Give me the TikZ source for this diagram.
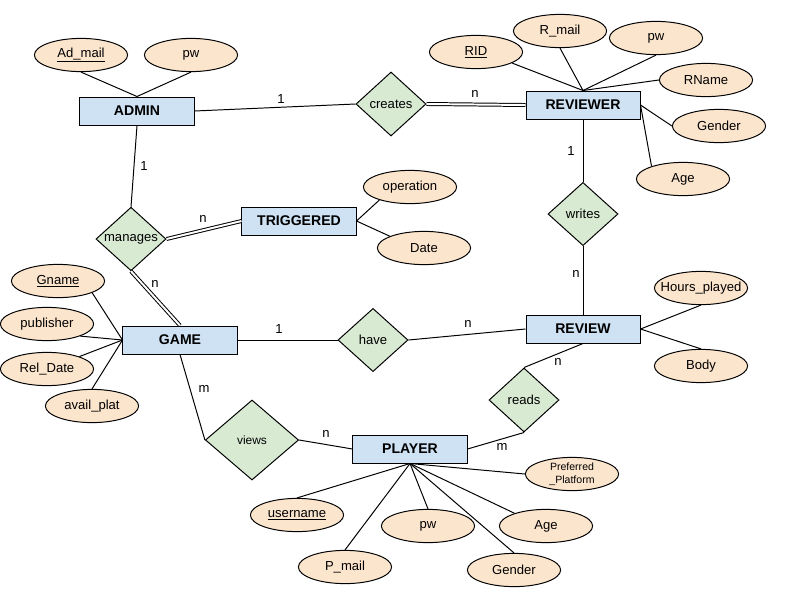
\documentclass[tikz,border=0pt]{standalone}
\usepackage{tikz}
\usetikzlibrary{shapes.geometric}
\usepackage{fontspec}
\setmainfont{Liberation Sans}
\usepackage{xcolor}
\definecolor{entityBlue}{RGB}{207,226,243}
\definecolor{attrOrange}{RGB}{252,229,205}
\definecolor{relGreen}{RGB}{217,234,211}

\begin{document}
\begin{tikzpicture}[x=0.025cm, y=-0.025cm, line width=0.7pt,
    entity/.style={draw, fill=entityBlue, minimum width=2.85cm, minimum height=0.7cm, inner sep=0pt, font=\fontsize{10}{12}\selectfont\bfseries},
    attr/.style={draw, ellipse, fill=attrOrange, minimum width=2.33cm, minimum height=0.83cm, inner sep=0pt, font=\fontsize{9.3}{11}\selectfont},
    rel/.style={draw, diamond, fill=relGreen, minimum width=1.75cm, minimum height=1.58cm, inner sep=0pt, font=\fontsize{9.3}{11}\selectfont},
    card/.style={inner sep=0pt, font=\fontsize{9.3}{11}\selectfont},
    total/.style={double, double distance=1.4pt}]
    \useasboundingbox (0,0) rectangle (800,600);

    % entities
    \node[entity] (admin) at (137,111) {ADMIN};
    \node[entity] (reviewer) at (583,105) {REVIEWER};
    \node[entity] (triggered) at (299,221) {TRIGGERED};
    \node[entity] (game) at (180,340) {GAME};
    \node[entity] (review) at (583,329) {REVIEW};
    \node[entity] (player) at (410,449) {PLAYER};

    % relationships
    \node[rel, minimum height=1.6cm] (creates) at (391,104) {creates};
    \node[rel] (writes) at (583,214) {writes};
    \node[rel] (manages) at (131,239) {manages};
    \node[rel] (have) at (373,340) {have};
    \node[rel, minimum height=1.6cm] (reads) at (524,400) {reads};
    \node[rel, minimum width=2.33cm, minimum height=2cm, font=\fontsize{8.5}{10}\selectfont] (views) at (252,440) {views};

    % attributes
    \node[attr] (admail) at (81,55) {\underline{Ad\_mail}};
    \node[attr] (apw) at (191,55) {pw};

    \node[attr] (rid) at (476,52) {\underline{RID}};
    \node[attr] (rmail) at (560,31) {R\_mail};
    \node[attr] (rpw) at (656,38) {pw};
    \node[attr] (rname) at (706,80) {RName};
    \node[attr] (rgender) at (719,126) {Gender};
    \node[attr] (rage) at (683,179) {Age};

    \node[attr] (operation) at (410,187) {operation};
    \node[attr] (date) at (424,248) {Date};

    \node[attr] (gname) at (58,281) {\underline{Gname}};
    \node[attr] (publisher) at (47,324) {publisher};
    \node[attr] (reldate) at (47,369) {Rel\_Date};
    \node[attr] (availplat) at (92,406) {avail\_plat};

    \node[attr] (hours) at (701,288) {\makebox[0pt]{Hours\_played}};
    \node[attr] (body) at (701,366) {Body};

    \node[attr, align=center, font=\fontsize{7.5}{9}\selectfont] (pref) at (572,474) {Preferred\\\_Platform};
    \node[attr] (page) at (546,526) {Age};
    \node[attr] (pgender) at (514,570) {Gender};
    \node[attr] (ppw) at (428,526) {pw};
    \node[attr] (pmail) at (345,567) {P\_mail};
    \node[attr] (username) at (297,515) {\underline{username}};

    % attribute links
    \draw (admail.south) -- (admin.north);
    \draw (apw.south) -- (admin.north);
    \draw (rid.-17) -- (reviewer.north);
    \draw (rmail.south) -- (reviewer.north);
    \draw (rpw.south) -- (reviewer.north);
    \draw (rname.west) -- (reviewer.north);
    \draw (reviewer.east) -- (rgender.west);
    \draw (reviewer.east) -- (rage.158);
    \draw (triggered.east) -- (operation.203);
    \draw (triggered.east) -- (date.161);
    \draw (gname.-19) -- (game.west);
    \draw (publisher.-20) -- (game.west);
    \draw (reldate.21) -- (game.west);
    \draw (availplat.north) -- (game.west);
    \draw (review.east) -- (hours.south);
    \draw (review.east) -- (body.north);
    \draw (player.south) -- (pref.west);
    \draw (player.south) -- (page.158);
    \draw (player.south) -- (pgender.north);
    \draw (player.south) -- (ppw.north);
    \draw (player.south) -- (pmail.north);
    \draw (player.south) -- (username.north);

    % relationship links
    \draw (admin.east) -- (creates.west);
    \draw[total] (creates.east) -- (reviewer.west);
    \draw (reviewer.south) -- (writes.north);
    \draw (writes.south) -- (review.north);
    \draw (admin.south) -- (manages.north);
    \draw[total] (manages.east) -- (triggered.west);
    \draw[total] (manages.south) -- (game.north);
    \draw (game.east) -- (have.west);
    \draw (have.east) -- (review.west);
    \draw (review.south) -- (reads.north);
    \draw (reads.south) -- (player.east);
    \draw (game.south) -- (views.west);
    \draw (views.east) -- (player.west);

    % cardinalities
    \node[card] (cAdmCr) at (281,99) {1};
    \node[card] (cCrRev) at (475,94) {n};
    \node[card] (cRevWr) at (571,151) {1};
    \node[card] (cWrRev) at (576,274) {n};
    \node[card] (cAdmMa) at (144,166) {1};
    \node[card] (cMaTr) at (203,219) {n};
    \node[card] (cMaGa) at (155,284) {n};
    \node[card] (cGaHa) at (279,329) {1};
    \node[card] (cHaRev) at (468,324) {n};
    \node[card] (cRevRe) at (558,362) {n};
    \node[card] (cRePl) at (502,447) {m};
    \node[card] (cViPl) at (326,434) {n};
    \node[card] (cGaVi) at (204,389) {m};
\end{tikzpicture}
\end{document}
